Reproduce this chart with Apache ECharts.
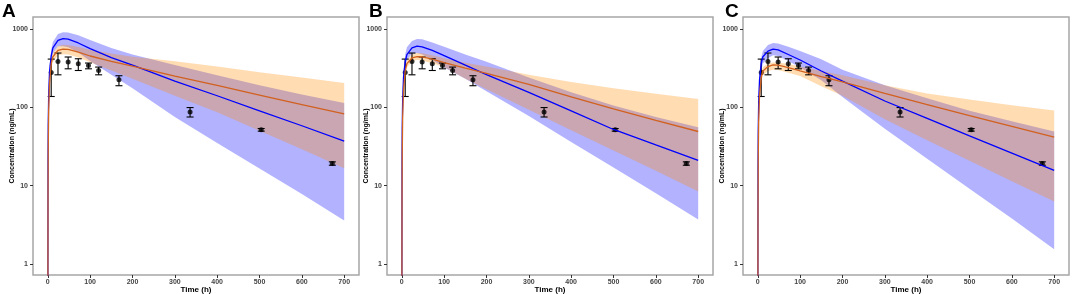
<!DOCTYPE html>
<html>
<head>
<meta charset="utf-8">
<script src="https://cdn.jsdelivr.net/npm/echarts@6/dist/echarts.min.js"></script>
<style>
  html, body { margin: 0; padding: 0; background: #fff; }
  #chart { width: 1072px; height: 294px; }
</style>
</head>
<body>
<div id="chart"></div>
<script>
// model time grid (h)
const times = [0, 0.5, 1, 2, 4, 8, 12, 24, 36, 48, 72, 100, 150, 200, 300, 400, 500, 600, 700]

// panel A
const aBlueMed = [0.1, 20, 60, 140, 280, 450, 570, 710, 750, 740, 660, 560, 430, 345, 215, 140, 90, 58, 37]
const aBlueLo = [0.1, 14, 45, 110, 230, 390, 490, 600, 600, 580, 500, 390, 260, 175, 75, 35, 16.5, 7.8, 3.6]
const aBlueHi = [0.1, 28, 80, 180, 340, 540, 680, 860, 905, 900, 830, 720, 570, 470, 345, 255, 190, 145, 113]
const aOrangeMed = [0.1, 8, 30, 90, 200, 360, 440, 530, 552, 548, 505, 450, 385, 335, 250, 190, 143, 108, 82]
const aOrangeLo = [0.1, 6, 24, 75, 170, 310, 380, 460, 475, 470, 430, 375, 295, 230, 140, 86, 50, 29, 16.7]
const aOrangeHi = [0.1, 10, 36, 105, 230, 410, 500, 600, 626, 622, 585, 540, 485, 440, 385, 330, 280, 240, 204]

// panel B
const bBlueMed = [0.1, 18, 55, 125, 240, 380, 470, 570, 600, 590, 530, 455, 345, 260, 155, 90, 52, 33, 21]
const bBlueLo = [0.1, 12, 40, 95, 190, 320, 400, 480, 490, 470, 400, 320, 230, 160, 77, 36, 17, 8, 3.7]
const bBlueHi = [0.1, 25, 72, 160, 300, 470, 580, 700, 741, 735, 670, 590, 470, 380, 240, 155, 105, 75, 55.7]
const bOrangeMed = [0.1, 7, 25, 75, 165, 290, 360, 425, 442, 440, 410, 370, 315, 270, 195, 135, 95, 68, 49]
const bOrangeLo = [0.1, 6, 21, 65, 145, 255, 320, 385, 400, 395, 365, 325, 230, 170, 93, 51, 28, 15.5, 8.4]
const bOrangeHi = [0.1, 8, 28, 85, 185, 330, 400, 470, 490, 488, 460, 420, 370, 330, 260, 210, 175, 148, 127]

// panel C
const cBlueMed = [0.1, 16, 50, 115, 220, 360, 440, 520, 552, 540, 470, 400, 290, 215, 120, 72, 43, 26, 15.6]
const cBlueLo = [0.1, 11, 36, 85, 170, 290, 360, 420, 460, 450, 390, 320, 220, 135, 53, 22, 9.1, 3.8, 1.54]
const cBlueHi = [0.1, 22, 66, 150, 280, 430, 520, 620, 658, 650, 590, 520, 410, 300, 190, 130, 90, 66, 49]
const cOrangeMed = [0.1, 6, 22, 65, 140, 240, 290, 330, 347, 345, 320, 290, 245, 210, 150, 108, 78, 57, 41.5]
const cOrangeLo = [0.1, 5, 18, 55, 120, 210, 255, 290, 300, 298, 275, 250, 185, 140, 70, 38, 20.8, 11.4, 6.25]
const cOrangeHi = [0.1, 7, 26, 75, 160, 270, 325, 360, 372, 372, 355, 330, 290, 255, 190, 150, 125, 106, 91]

// observed data (same in every panel)
const obsTime = [8, 24, 48, 72, 96, 120, 168, 336, 504, 672]
const obsMean = [277, 384, 377, 358, 341, 294, 224, 87, 51.5, 19.1]
const obsLow = [137, 259, 309, 294, 309, 259, 188, 75, 49.5, 18.2]
const obsHigh = [411, 491, 437, 415, 366, 325, 252, 99, 53.5, 20.1]

const panelLabels = ['A', 'B', 'C']
const xTicks = [0, 100, 200, 300, 400, 500, 600, 700]
const yTicks = [1, 10, 100, 1000]

const panels = [
  { blueMed: aBlueMed, blueLo: aBlueLo, blueHi: aBlueHi, orMed: aOrangeMed, orLo: aOrangeLo, orHi: aOrangeHi },
  { blueMed: bBlueMed, blueLo: bBlueLo, blueHi: bBlueHi, orMed: bOrangeMed, orLo: bOrangeLo, orHi: bOrangeHi },
  { blueMed: cBlueMed, blueLo: cBlueLo, blueHi: cBlueHi, orMed: cOrangeMed, orLo: cOrangeLo, orHi: cOrangeHi }
]
const gridLefts = [33, 387, 743]
const labelLefts = [2, 369, 725]

const FONT = 'Liberation Sans, Arial, sans-serif'
const BLUE = '#0000ff'
const ORANGE = '#ff8c00'

const pairs = (ys) => times.map((t, i) => [t, ys[i]])

// ribbon between lo and hi, drawn as one polygon through the axes
function bandSeries(i, lo, hi, color) {
  return {
    type: 'custom', xAxisIndex: i, yAxisIndex: i, clip: true, silent: true,
    data: times.map((t, k) => [t, lo[k], hi[k]]),
    encode: { x: 0, y: [1, 2] },
    renderItem: function (params, api) {
      if (params.dataIndex !== 0) return null
      const pts = []
      times.forEach((t, k) => pts.push(api.coord([t, lo[k]])))
      for (let k = times.length - 1; k >= 0; k--) pts.push(api.coord([times[k], hi[k]]))
      return { type: 'polygon', shape: { points: pts }, style: { fill: color, opacity: 0.3 } }
    }
  }
}

const chart = echarts.init(document.getElementById('chart'))

const grid = []
const xAxis = []
const yAxis = []
const series = []
const title = []

panels.forEach((p, i) => {
  grid.push({
    left: gridLefts[i], top: 17, width: 326, height: 258,
    outerBoundsMode: 'none', containLabel: false,
    show: true, borderColor: '#a6a6a6', borderWidth: 1.5, backgroundColor: '#fff'
  })
  title.push({
    text: panelLabels[i], left: labelLefts[i], top: 2, padding: 0,
    textStyle: { fontSize: 19, fontWeight: 'bold', color: '#000', fontFamily: FONT }
  })
  xAxis.push({
    gridIndex: i, type: 'value', min: -35, max: 735,
    name: 'Time (h)', nameLocation: 'middle', nameGap: 11, nameMoveOverlap: false,
    nameTextStyle: { fontSize: 8, fontWeight: 'bold', color: '#000', fontFamily: FONT },
    axisLine: { show: false, onZero: false },
    splitLine: { show: false },
    axisTick: { show: true, length: 3, lineStyle: { color: '#333' }, customValues: xTicks },
    axisLabel: { fontSize: 7, fontWeight: 'bold', color: '#444', margin: 4, fontFamily: FONT, customValues: xTicks }
  })
  yAxis.push({
    gridIndex: i, type: 'log', logBase: 10, min: 0.724, max: 1415,
    name: 'Concentration (ng/mL)', nameLocation: 'middle', nameGap: 17, nameMoveOverlap: false,
    nameTextStyle: { fontSize: 7, fontWeight: 'bold', color: '#000', fontFamily: FONT },
    axisLine: { show: false, onZero: false },
    splitLine: { show: false },
    axisTick: { show: true, length: 3, lineStyle: { color: '#333' }, customValues: yTicks },
    axisLabel: {
      fontSize: 7, fontWeight: 'bold', color: '#444', margin: 5, fontFamily: FONT, customValues: yTicks,
      formatter: (v) => String(Math.round(v))
    }
  })

  const ax = { xAxisIndex: i, yAxisIndex: i }
  series.push(bandSeries(i, p.blueLo, p.blueHi, BLUE))
  series.push(bandSeries(i, p.orLo, p.orHi, ORANGE))
  // medians
  series.push(Object.assign({ type: 'line', data: pairs(p.blueMed), showSymbol: false, lineStyle: { color: BLUE, width: 1.3 } }, ax))
  series.push(Object.assign({ type: 'line', data: pairs(p.orMed), showSymbol: false, lineStyle: { color: '#d2601e', width: 1.3 } }, ax))
  // observed mean with error bars
  series.push(Object.assign({
    type: 'custom',
    data: obsTime.map((t, k) => [t, obsLow[k], obsHigh[k]]),
    encode: { x: 0, y: [1, 2] },
    renderItem: function (params, api) {
      const lo = api.coord([api.value(0), api.value(1)])
      const hi = api.coord([api.value(0), api.value(2)])
      const w = 3.5
      const style = { stroke: '#000', lineWidth: 1.1 }
      return {
        type: 'group',
        children: [
          { type: 'line', shape: { x1: lo[0], y1: lo[1], x2: hi[0], y2: hi[1] }, style: style },
          { type: 'line', shape: { x1: lo[0] - w, y1: lo[1], x2: lo[0] + w, y2: lo[1] }, style: style },
          { type: 'line', shape: { x1: hi[0] - w, y1: hi[1], x2: hi[0] + w, y2: hi[1] }, style: style }
        ]
      }
    }
  }, ax))
  series.push(Object.assign({
    type: 'scatter', data: obsTime.map((t, k) => [t, obsMean[k]]),
    symbol: 'circle', symbolSize: 5, itemStyle: { color: '#000' }
  }, ax))
})

chart.setOption({
  animation: false,
  backgroundColor: '#fff',
  title: title,
  grid: grid,
  xAxis: xAxis,
  yAxis: yAxis,
  series: series
})
</script>
</body>
</html>
